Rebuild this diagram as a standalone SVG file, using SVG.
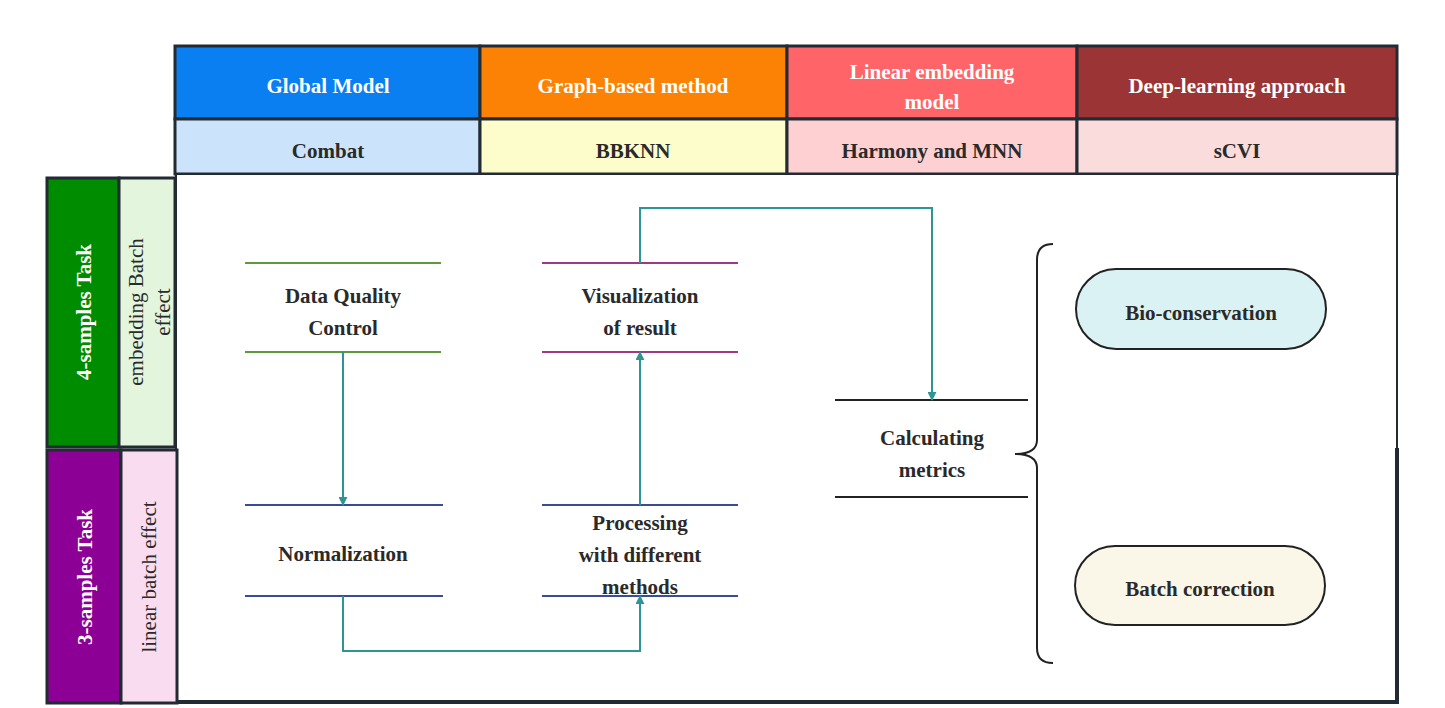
<svg xmlns="http://www.w3.org/2000/svg" width="1445" height="708" viewBox="0 0 1445 708">
<style>
text{font-family:"Liberation Serif","Times New Roman",serif;font-weight:bold;font-size:21px;fill:#2a2a2a;text-anchor:middle}
.w{fill:#fff}
.n{font-weight:normal}
.c{stroke:#2e9494;stroke-width:2;fill:none}
.b{stroke:#222b33;stroke-width:3}
</style>
<defs><marker id="a" viewBox="0 0 10 10" refX="9" refY="5" markerWidth="9" markerHeight="9" markerUnits="userSpaceOnUse" orient="auto"><path d="M0,0L10,5L0,10z" fill="#2e9494"/></marker></defs>
<rect width="1445" height="708" fill="#fff"/>
<g id="header">
<rect x="175" y="46" width="305" height="73" fill="#0a7ff2" class="b"/>
<rect x="480" y="46" width="307" height="73" fill="#fb8205" class="b"/>
<rect x="787" y="46" width="290" height="73" fill="#fe6468" class="b"/>
<rect x="1077" y="46" width="320" height="73" fill="#9b3535" class="b"/>
<rect x="175" y="119" width="305" height="55" fill="#cce4fb" class="b"/>
<rect x="480" y="119" width="307" height="55" fill="#fdfdcc" class="b"/>
<rect x="787" y="119" width="290" height="55" fill="#fed0d2" class="b"/>
<rect x="1077" y="119" width="320" height="55" fill="#fbdcdc" class="b"/>
<text class="w" x="328" y="93">Global Model</text>
<text class="w" x="633" y="93">Graph-based method</text>
<text class="w" x="932" y="79">Linear embedding</text>
<text class="w" x="932" y="109">model</text>
<text class="w" x="1237" y="93">Deep-learning approach</text>
<text x="328" y="158">Combat</text>
<text x="633" y="158">BBKNN</text>
<text x="932" y="158">Harmony and MNN</text>
<text x="1237" y="158">sCVI</text>
</g>
<rect x="176" y="174" width="1221" height="528" fill="#fff" stroke="#222b33" stroke-width="2"/>
<line x1="1397" y1="448" x2="1397" y2="704" stroke="#222b33" stroke-width="4"/>
<line x1="175" y1="702" x2="1399" y2="702" stroke="#222b33" stroke-width="4"/>
<g id="side">
<rect x="47" y="178" width="72" height="269" fill="#008c00" class="b"/>
<rect x="119" y="178" width="56" height="269" fill="#e3f5dc" class="b"/>
<rect x="47" y="450" width="74" height="253" fill="#8c0096" class="b"/>
<rect x="121" y="450" width="56" height="253" fill="#f9dcef" class="b"/>
<text class="w" transform="translate(91,312) rotate(-90)">4-samples Task</text>
<text class="n" transform="translate(143,312) rotate(-90)">embedding Batch</text>
<text class="n" transform="translate(170,312) rotate(-90)">effect</text>
<text class="w" transform="translate(92,577) rotate(-90)">3-samples Task</text>
<text class="n" transform="translate(156,577) rotate(-90)">linear batch effect</text>
</g>
<g id="n1"><line x1="245" y1="263" x2="441" y2="263" stroke="#5c9a3c" stroke-width="2"/><line x1="245" y1="352" x2="441" y2="352" stroke="#5c9a3c" stroke-width="2"/><text x="343" y="303">Data Quality</text><text x="343" y="335">Control</text></g>
<g id="n2"><line x1="245" y1="505" x2="443" y2="505" stroke="#3a4b9a" stroke-width="2"/><line x1="245" y1="596" x2="443" y2="596" stroke="#3a4b9a" stroke-width="2"/><text x="343" y="561">Normalization</text></g>
<g id="n3"><line x1="542" y1="505" x2="738" y2="505" stroke="#3a4b9a" stroke-width="2"/><line x1="542" y1="596" x2="738" y2="596" stroke="#3a4b9a" stroke-width="2"/><text x="640" y="530">Processing</text><text x="640" y="562">with different</text><text x="640" y="594">methods</text></g>
<g id="n4"><line x1="542" y1="263" x2="738" y2="263" stroke="#a03a80" stroke-width="2"/><line x1="542" y1="352" x2="738" y2="352" stroke="#a03a80" stroke-width="2"/><text x="640" y="303">Visualization</text><text x="640" y="335">of result</text></g>
<g id="n5"><line x1="835" y1="400" x2="1028" y2="400" stroke="#222" stroke-width="2"/><line x1="835" y1="497" x2="1028" y2="497" stroke="#222" stroke-width="2"/><text x="932" y="445">Calculating</text><text x="932" y="477">metrics</text></g>
<g id="n6"><rect x="1076" y="269" width="250" height="80" rx="40" fill="#daf2f3" stroke="#222" stroke-width="2"/><text x="1201" y="320">Bio-conservation</text></g>
<g id="n7"><rect x="1075" y="546" width="250" height="79" rx="40" fill="#faf7e8" stroke="#222" stroke-width="2"/><text x="1200" y="596">Batch correction</text></g>
<path d="M1053,244 Q1037,244 1037,260 L1037,440 Q1037,454 1015,454 Q1037,454 1037,468 L1037,648 Q1037,663 1053,663" fill="none" stroke="#222" stroke-width="2"/>
<g id="connectors">
<path class="c" d="M343,352 V505" marker-end="url(#a)"/>
<path class="c" d="M343,596 V651 H640 V596" marker-end="url(#a)"/>
<path class="c" d="M640,505 V352" marker-end="url(#a)"/>
<path class="c" d="M640,263 V208 H932 V400" marker-end="url(#a)"/>
</g>
</svg>
